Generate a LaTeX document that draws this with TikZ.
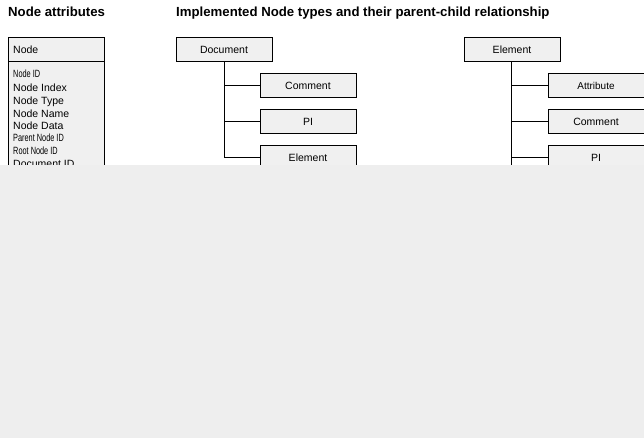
\documentclass[tikz,border=0pt]{standalone}
\usepackage{fontspec}
\setmainfont{Liberation Sans}
\usepackage{graphicx}
\definecolor{boxfill}{HTML}{F0F0F0}
\definecolor{bggray}{HTML}{EEEEEE}
\begin{document}
\begin{tikzpicture}[x=1pt,y=-1pt,
  box/.style={draw=black,fill=boxfill,line width=1pt,minimum width=96pt,minimum height=24pt,inner sep=0pt,font=\fontsize{10.5}{12}\selectfont},
  attr/.style={anchor=base west,inner sep=0pt,font=\fontsize{10.5}{12}\selectfont},
  ttl/.style={anchor=base west,inner sep=0pt,font=\fontsize{13.2}{15}\selectfont\bfseries},
  conn/.style={draw=black,line width=1pt}]
\useasboundingbox (0,0) rectangle (644,438);
\clip (0,0) rectangle (644,438);
\fill[white] (0,0) rectangle (644,438);
% titles
\node[ttl] (t1) at (8,17) {Node attributes};
\node[ttl] (t2) at (176,17) {Implemented Node types and their parent-child relationship};
% Node attributes box
\draw[fill=boxfill,line width=1pt] (8,38) rectangle (104,220);
\draw[line width=1pt] (8,62) -- (104,62);
\node[attr] (nh) at (13,54) {Node};
\node[attr] (a1) at (13,78) {\scalebox{0.7}[1]{Node ID}};
\node[attr] (a2) at (13,91.7) {Node Index};
\node[attr] (a3) at (13,104.7) {Node Type};
\node[attr] (a4) at (13,117.3) {Node Name};
\node[attr] (a5) at (13,129.7) {Node Data};
\node[attr] (a6) at (13,142) {\scalebox{0.7}[1]{Parent Node ID}};
\node[attr] (a7) at (13,154.7) {\scalebox{0.7}[1]{Root Node ID}};
\node[attr] (a8) at (13,167.3) {Document ID};
% Document tree
\node[box] (doc) at (224,50) {Document};
\node[box] (dc) at (308,86) {Comment};
\node[box] (dp) at (308,122) {PI};
\node[box] (de) at (308,158) {Element};
\coordinate (dv) at (224.5,62);
\draw[conn] (dv) |- (dc.west);
\draw[conn] (dv) |- (dp.west);
\draw[conn] (dv) |- (de.west);
% Element tree
\node[box] (el) at (512,50) {Element};
\node[box] (ea) at (596,86) {\scalebox{0.95}{Attribute}};
\node[box] (ec) at (596,122) {Comment};
\node[box] (ep) at (596,158) {PI};
\coordinate (ev) at (511.5,62);
\coordinate (eb) at (511.5,200);
\draw[conn] (ev) -- (eb);
\draw[conn] (ev) |- (ea.west);
\draw[conn] (ev) |- (ec.west);
\draw[conn] (ev) |- (ep.west);
% gray lower area
\fill[bggray] (0,165) rectangle (644,438);
\end{tikzpicture}
\end{document}
